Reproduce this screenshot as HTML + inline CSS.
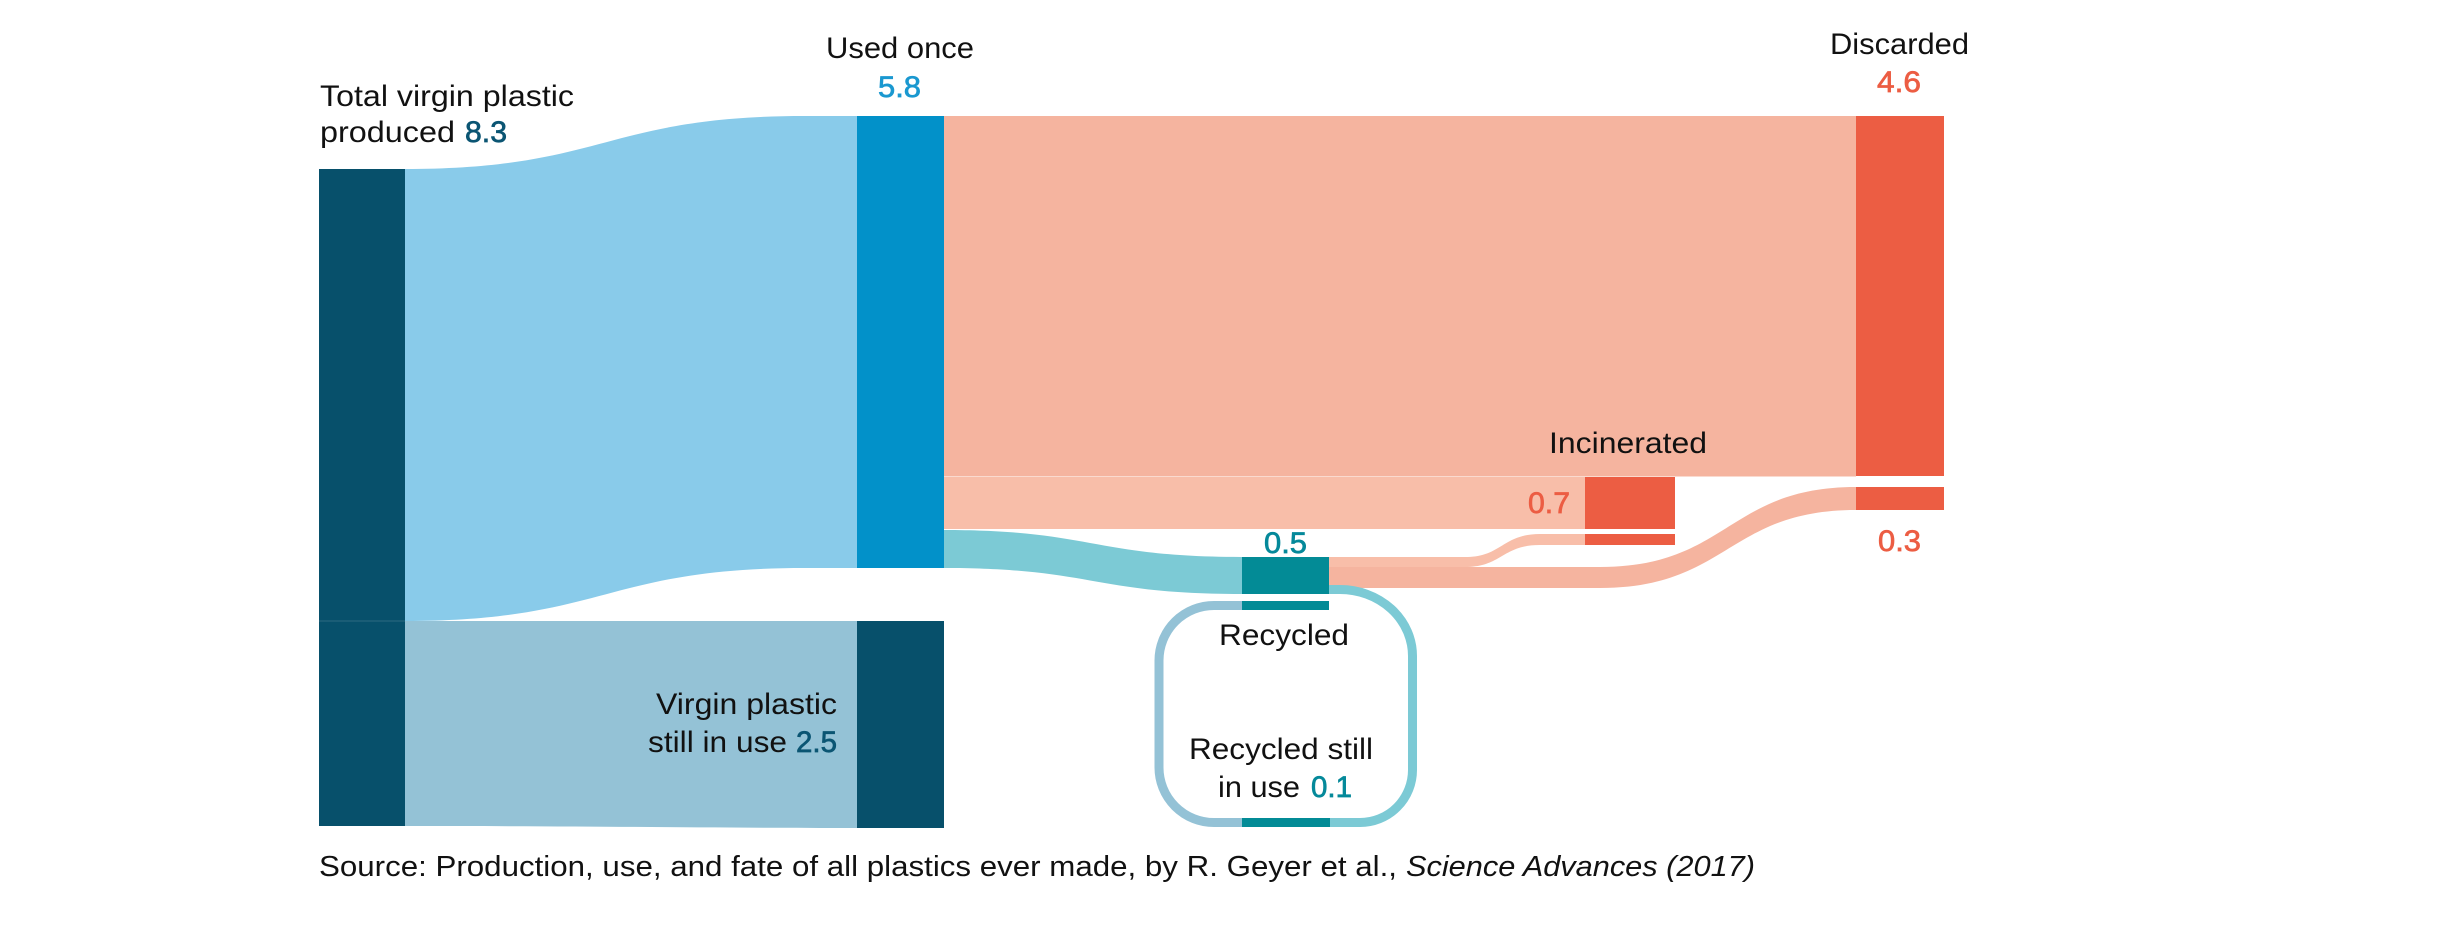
<!DOCTYPE html>
<html>
<head>
<meta charset="utf-8">
<style>
  html, body { margin:0; padding:0; background:#ffffff; }
  body { width:2457px; height:945px; overflow:hidden; }
  svg { display:block; }
  text { font-family: "Liberation Sans", "DejaVu Sans", sans-serif; font-size:30px; fill:#111111; }
  .num { stroke-width:0.7px; }
</style>
</head>
<body>
<svg width="2457" height="945" viewBox="0 0 2457 945" xmlns="http://www.w3.org/2000/svg">
  <rect x="0" y="0" width="2457" height="945" fill="#ffffff"/>

  <!-- Left total bar -->
  <rect x="319" y="169" width="86" height="657" fill="#07506b"/>
  <line x1="319" y1="621" x2="405" y2="621" stroke="#2d6a82" stroke-width="1"/>

  <!-- Blue flow to Used once -->
  <path d="M405,169 C605,169 605,116 805,116 L857,116 L857,568 L805,568 C605,568 605,621 405,621 Z" fill="#89cbea"/>
  <!-- Used once bar -->
  <rect x="857" y="116" width="87" height="452" fill="#0291c9"/>

  <!-- Virgin still in use flow -->
  <path d="M405,621 L857,621 L857,828 C700,828 600,826 405,826 Z" fill="#94c2d6"/>
  <rect x="857" y="621" width="87" height="207" fill="#07506b"/>

  <!-- Discarded main flow -->
  <rect x="944" y="116" width="912" height="360.5" fill="#f5b49f"/>
  <!-- Incinerated flow -->
  <rect x="944" y="477" width="641" height="52" fill="#f8bea9"/>

  <!-- Teal flow to recycled -->
  <path d="M944,530 C1093,530 1093,557 1242,557 L1242,594 C1093,594 1093,568 944,568 Z" fill="#7ccad5"/>

  <!-- Recycled -> incinerated thin flow -->
  <path d="M1329,557 L1465,557 C1502,557 1502,534 1540,534 L1585,534 L1585,545 L1540,545 C1502,545 1502,567 1465,567 L1329,567 Z" fill="#f8bea9"/>
  <!-- Recycled -> discarded 0.3 flow -->
  <path d="M1329,567 L1600,567 C1728,567 1728,487 1856,487 L1856,510 C1728,510 1728,588 1600,588 L1329,588 Z" fill="#f5b49f"/>

  <!-- Recycle loop -->
  <path d="M1329,589.5 L1340,589.5 A72.5,66.5 0 0 1 1412.5,656 L1412.5,770 A52.5,52.5 0 0 1 1360,822.5 L1329,822.5" fill="none" stroke="#7ccad5" stroke-width="9"/>
  <path d="M1242,605.5 L1214,605.5 A55,55 0 0 0 1159,660.5 L1159,767.5 A55,55 0 0 0 1214,822.5 L1242,822.5" fill="none" stroke="#94c2d6" stroke-width="9"/>
  <rect x="1242" y="818" width="88" height="9" fill="#038b96"/>

  <!-- Recycled bars -->
  <rect x="1242" y="557" width="87" height="37" fill="#038b96"/>
  <rect x="1242" y="601" width="87" height="9" fill="#038b96"/>

  <!-- Incinerated bars -->
  <rect x="1585" y="477" width="90" height="52" fill="#ec5d43"/>
  <rect x="1585" y="534" width="90" height="11" fill="#ec5d43"/>

  <!-- Discarded bars -->
  <rect x="1856" y="116" width="88" height="360" fill="#ec5d43"/>
  <rect x="1856" y="487" width="88" height="23" fill="#ec5d43"/>

  <!-- Labels -->
  <text x="320" y="106" textLength="254" lengthAdjust="spacingAndGlyphs">Total virgin plastic</text>
  <text x="320" y="142" textLength="135" lengthAdjust="spacingAndGlyphs">produced</text>
  <text x="465" y="142" textLength="42" lengthAdjust="spacingAndGlyphs" class="num" style="fill:#0b5573;stroke:#0b5573">8.3</text>

  <text x="826" y="58" textLength="148" lengthAdjust="spacingAndGlyphs">Used once</text>
  <text x="878" y="97" textLength="43" lengthAdjust="spacingAndGlyphs" class="num" style="fill:#1a98d0;stroke:#1a98d0">5.8</text>

  <text x="1830" y="54" textLength="139" lengthAdjust="spacingAndGlyphs">Discarded</text>
  <text x="1877" y="92" textLength="44" lengthAdjust="spacingAndGlyphs" class="num" style="fill:#ec5d43;stroke:#ec5d43">4.6</text>

  <text x="1549" y="453" textLength="158" lengthAdjust="spacingAndGlyphs">Incinerated</text>
  <text x="1528" y="513" textLength="42" lengthAdjust="spacingAndGlyphs" class="num" style="fill:#ec5d43;stroke:#ec5d43">0.7</text>
  <text x="1878" y="551" textLength="43" lengthAdjust="spacingAndGlyphs" class="num" style="fill:#ec5d43;stroke:#ec5d43">0.3</text>

  <text x="1264" y="553" textLength="43" lengthAdjust="spacingAndGlyphs" class="num" style="fill:#05899a;stroke:#05899a">0.5</text>
  <text x="1219" y="645" textLength="130" lengthAdjust="spacingAndGlyphs">Recycled</text>
  <text x="1189" y="759" textLength="184" lengthAdjust="spacingAndGlyphs">Recycled still</text>
  <text x="1218" y="797" textLength="82" lengthAdjust="spacingAndGlyphs">in use</text>
  <text x="1311" y="797" textLength="41" lengthAdjust="spacingAndGlyphs" class="num" style="fill:#05899a;stroke:#05899a">0.1</text>

  <text x="656" y="714" textLength="181" lengthAdjust="spacingAndGlyphs">Virgin plastic</text>
  <text x="648" y="752" textLength="139" lengthAdjust="spacingAndGlyphs">still in use</text>
  <text x="796" y="752" textLength="41" lengthAdjust="spacingAndGlyphs" class="num" style="fill:#0b5573;stroke:#0b5573">2.5</text>

  <text x="319" y="876" style="font-size:29px" textLength="1078" lengthAdjust="spacingAndGlyphs">Source: Production, use, and fate of all plastics ever made, by R. Geyer et al.,</text>
  <text x="1406" y="876" style="font-size:29px;font-style:italic" textLength="349" lengthAdjust="spacingAndGlyphs">Science Advances (2017)</text>
</svg>
</body>
</html>
